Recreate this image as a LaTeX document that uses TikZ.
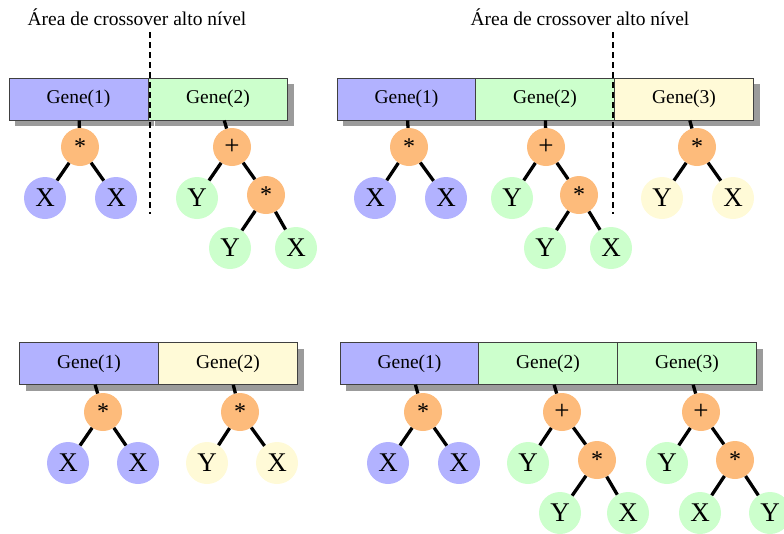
\documentclass[tikz,border=0pt]{standalone}
\usepackage{fontspec}
\setmainfont{Liberation Serif}
\definecolor{cblue}{RGB}{178,178,255}
\definecolor{cgreen}{RGB}{204,255,204}
\definecolor{cyel}{RGB}{255,250,215}
\definecolor{corange}{RGB}{253,187,123}
\definecolor{cshadow}{RGB}{155,155,155}
\tikzset{
  genebox/.style={rectangle, draw=black!75, line width=0.8pt, inner sep=0pt,
    minimum width=139pt, minimum height=42pt, font=\fontsize{19.5}{20}\selectfont,
    preaction={draw=none, fill=cshadow, transform canvas={xshift=6pt,yshift=-6pt}}},
  opnode/.style={circle, fill=corange, minimum size=38pt, inner sep=0pt},
  opstar/.style={opnode, font=\fontsize{24}{24}\selectfont},
  opplus/.style={opnode, font=\fontsize{27}{27}\selectfont},
  leaf/.style={circle, minimum size=42pt, inner sep=0pt, font=\fontsize{27}{27}\selectfont},
  bleaf/.style={leaf, fill=cblue},
  gleaf/.style={leaf, fill=cgreen},
  yleaf/.style={leaf, fill=cyel},
  edge/.style={line width=3.3pt, black},
  cut/.style={dashed, line width=1.4pt, dash pattern=on 6pt off 4pt},
  title/.style={anchor=base, font=\fontsize{19.5}{20}\selectfont}
}
\begin{document}
\begin{tikzpicture}[x=1pt,y=-1pt]
\useasboundingbox (0,0) rectangle (784,533);

% ---------------- Panel A (top-left)
\node[genebox, fill=cblue]  (A1) at (78.5,99) {Gene(1)};
\node[genebox, fill=cgreen] (A2) at (218,99) {Gene(2)};
\node[title] (Atxt) at (137,25) {Área de crossover alto nível};
\coordinate (Acuttop) at (150,32);
\coordinate (Acutbot) at (150,214);
\draw[cut] (Acuttop) -- (Acutbot);

\node[opstar] (a1r) at (80,147) {*};
\node[bleaf] (a1l) at (45,198) {X};
\node[bleaf] (a1rr) at (116,198) {X};
\draw[edge] (A1) -- (a1r);
\draw[edge] (a1r) -- (a1l);
\draw[edge] (a1r) -- (a1rr);

\node[opplus] (a2r) at (232,147) {+};
\node[gleaf] (a2y) at (197,198) {Y};
\node[opstar] (a2m) at (266,195) {*};
\node[gleaf] (a2my) at (230,248) {Y};
\node[gleaf] (a2mx) at (296,248) {X};
\draw[edge] (A2) -- (a2r);
\draw[edge] (a2r) -- (a2y);
\draw[edge] (a2r) -- (a2m);
\draw[edge] (a2m) -- (a2my);
\draw[edge] (a2m) -- (a2mx);

% ---------------- Panel B (top-right)
\node[genebox, fill=cblue]  (B1) at (406.5,99) {Gene(1)};
\node[genebox, fill=cgreen] (B2) at (545,99) {Gene(2)};
\node[genebox, fill=cyel]   (B3) at (684,99) {Gene(3)};
\node[title] (Btxt) at (580,25) {Área de crossover alto nível};
\coordinate (Bcuttop) at (613,32);
\coordinate (Bcutbot) at (613,214);
\draw[cut] (Bcuttop) -- (Bcutbot);

\node[opstar] (b1r) at (409,147) {*};
\node[bleaf] (b1l) at (375,198) {X};
\node[bleaf] (b1rr) at (446,198) {X};
\draw[edge] (B1) -- (b1r);
\draw[edge] (b1r) -- (b1l);
\draw[edge] (b1r) -- (b1rr);

\node[opplus] (b2r) at (546,147) {+};
\node[gleaf] (b2y) at (512,198) {Y};
\node[opstar] (b2m) at (579,195) {*};
\node[gleaf] (b2my) at (545,248) {Y};
\node[gleaf] (b2mx) at (611,248) {X};
\draw[edge] (B2) -- (b2r);
\draw[edge] (b2r) -- (b2y);
\draw[edge] (b2r) -- (b2m);
\draw[edge] (b2m) -- (b2my);
\draw[edge] (b2m) -- (b2mx);

\node[opstar] (b3r) at (697,147) {*};
\node[yleaf] (b3l) at (662,198) {Y};
\node[yleaf] (b3rr) at (733,198) {X};
\draw[edge] (B3) -- (b3r);
\draw[edge] (b3r) -- (b3l);
\draw[edge] (b3r) -- (b3rr);

% ---------------- Panel C (bottom-left)
\node[genebox, fill=cblue] (C1) at (89,363.5) {Gene(1)};
\node[genebox, fill=cyel]  (C2) at (228,363.5) {Gene(2)};

\node[opstar] (c1r) at (103,412) {*};
\node[bleaf] (c1l) at (68,463) {X};
\node[bleaf] (c1rr) at (138,463) {X};
\draw[edge] (C1) -- (c1r);
\draw[edge] (c1r) -- (c1l);
\draw[edge] (c1r) -- (c1rr);

\node[opstar] (c2r) at (240,412) {*};
\node[yleaf] (c2l) at (207,463) {Y};
\node[yleaf] (c2rr) at (277,463) {X};
\draw[edge] (C2) -- (c2r);
\draw[edge] (c2r) -- (c2l);
\draw[edge] (c2r) -- (c2rr);

% ---------------- Panel D (bottom-right)
\node[genebox, fill=cblue]  (D1) at (409.5,363.5) {Gene(1)};
\node[genebox, fill=cgreen] (D2) at (548,363.5) {Gene(2)};
\node[genebox, fill=cgreen] (D3) at (687,363.5) {Gene(3)};

\node[opstar] (d1r) at (423,412) {*};
\node[bleaf] (d1l) at (388,463) {X};
\node[bleaf] (d1rr) at (459,463) {X};
\draw[edge] (D1) -- (d1r);
\draw[edge] (d1r) -- (d1l);
\draw[edge] (d1r) -- (d1rr);

\node[opplus] (d2r) at (562,412) {+};
\node[gleaf] (d2y) at (528,463) {Y};
\node[opstar] (d2m) at (597,460) {*};
\node[gleaf] (d2my) at (560,513) {Y};
\node[gleaf] (d2mx) at (628,513) {X};
\draw[edge] (D2) -- (d2r);
\draw[edge] (d2r) -- (d2y);
\draw[edge] (d2r) -- (d2m);
\draw[edge] (d2m) -- (d2my);
\draw[edge] (d2m) -- (d2mx);

\node[opplus] (d3r) at (701,412) {+};
\node[gleaf] (d3y) at (667,463) {Y};
\node[opstar] (d3m) at (735,460) {*};
\node[gleaf] (d3mx) at (700,513) {X};
\node[gleaf] (d3my) at (770,513) {Y};
\draw[edge] (D3) -- (d3r);
\draw[edge] (d3r) -- (d3y);
\draw[edge] (d3r) -- (d3m);
\draw[edge] (d3m) -- (d3mx);
\draw[edge] (d3m) -- (d3my);
\end{tikzpicture}
\end{document}
